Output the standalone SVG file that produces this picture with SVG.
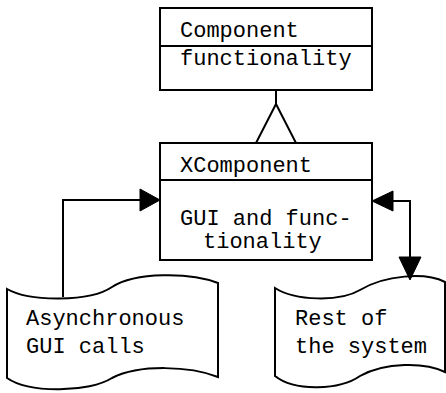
<svg xmlns="http://www.w3.org/2000/svg" width="446" height="393" viewBox="0 0 446 393">
<style>
.box{fill:#fff;stroke:#000;stroke-width:2}
.ln{fill:none;stroke:#000;stroke-width:2}
.hd{fill:#000;stroke:#000;stroke-width:1}
text{font-family:"Liberation Mono","Courier New",monospace;font-size:22px;fill:#000}
</style>
<rect width="446" height="393" fill="#fff"/>
<g id="component">
<rect class="box" x="160" y="8" width="212" height="82"/>
<line class="ln" x1="160" y1="46" x2="372" y2="46"/>
<text x="180" y="37">Component</text>
<text x="180" y="65">functionality</text>
</g>
<g id="xcomponent">
<rect class="box" x="160" y="143" width="212" height="117"/>
<line class="ln" x1="160" y1="180" x2="372" y2="180"/>
<text x="180" y="172">XComponent</text>
<text x="180" y="225">GUI and func-</text>
<text x="203" y="248">tionality</text>
</g>
<g id="async">
<path class="box" d="M7,289 C30,302 90,302 112,287 C135,272 190,272 218,283 L218,377 C190,366 140,364 112,378 C90,392 30,394 7,378 Z"/>
<text x="26" y="325">Asynchronous</text>
<text x="26" y="353">GUI calls</text>
</g>
<g id="rest">
<path class="box" d="M275,288 C295,301 340,302 360,290 C385,275 425,272 445,282 L445,372 C425,362 385,362 360,376 C340,390 295,392 275,376 Z"/>
<text x="295" y="325">Rest of</text>
<text x="295" y="353">the system</text>
</g>
<g id="connectors">
<line class="ln" x1="276" y1="90" x2="276" y2="104"/>
<polygon class="box" points="276,104 256,143 296,143"/>
<polyline class="ln" points="63,297 63,200 142,200"/>
<polygon class="hd" points="160,200 140,189 140,211"/>
<polyline class="ln" points="392,201 410,201 410,260"/>
<polygon class="hd" points="372,201 393,191 393,211"/>
<polygon class="hd" points="410,280 399,257 421,257"/>
</g>
</svg>
